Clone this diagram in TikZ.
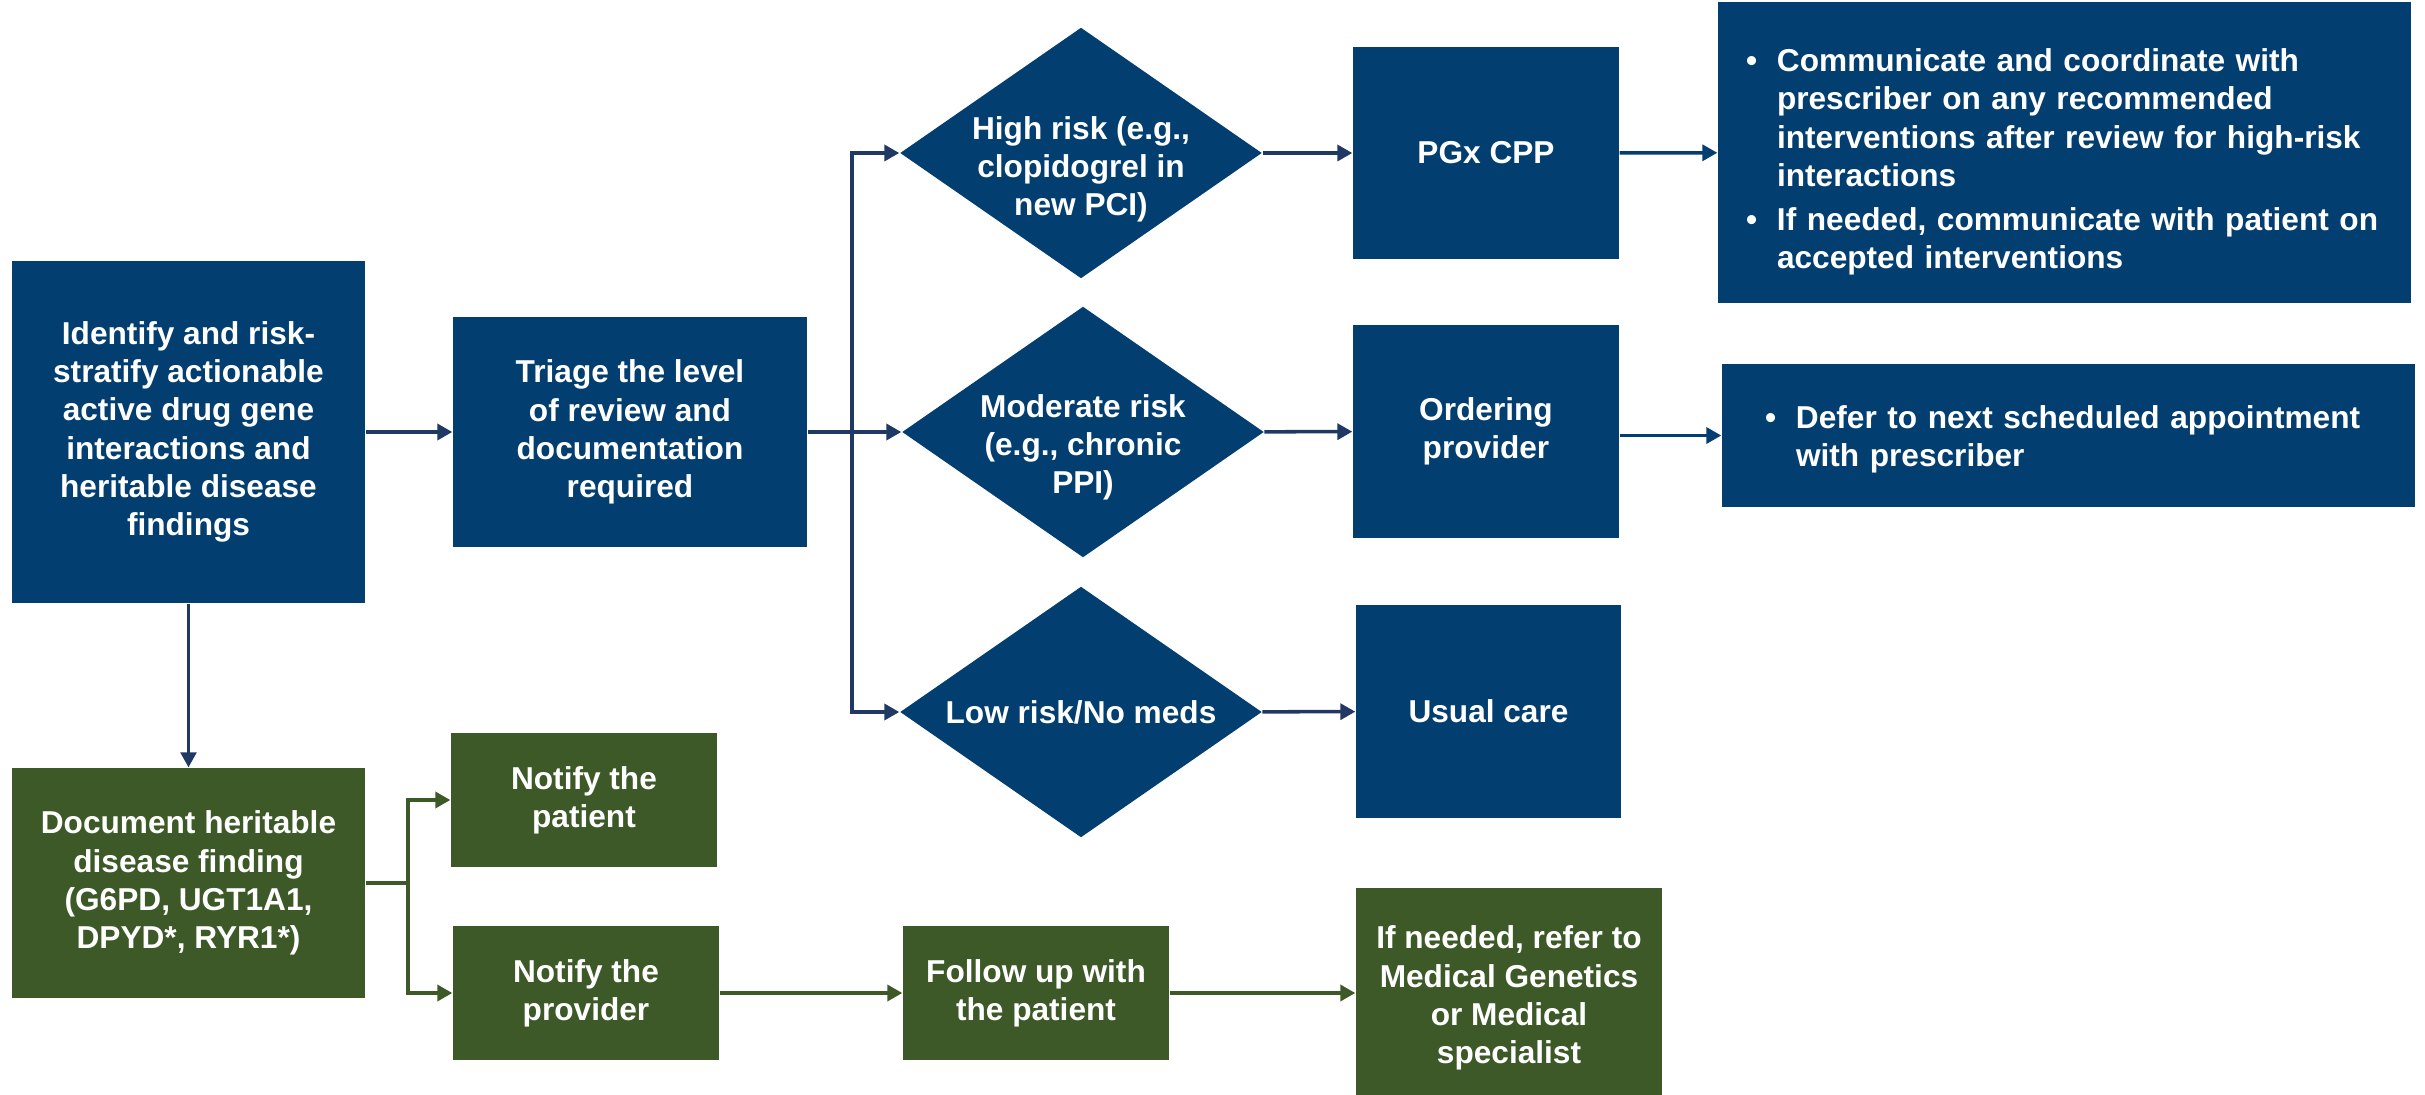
\documentclass[tikz,border=0pt]{standalone}
\usepackage{fontspec}
\setmainfont{Liberation Sans}
\usetikzlibrary{shapes.geometric,arrows.meta}

\definecolor{boxblue}{RGB}{3,62,112}
\definecolor{lineblue}{RGB}{31,56,100}
\definecolor{boxgreen}{RGB}{60,89,39}

\newcommand{\lowerby}[2]{\raisebox{-#1}[\height][\depth]{#2}}

\begin{document}
\begin{tikzpicture}[
        >={Triangle[length=0.15cm,width=0.16cm]},
        box/.style={
            rectangle,
            fill=boxblue,
            inner sep=0pt,
            align=center,
            text=white,
            font=\fontsize{9}{10.9}\selectfont\bfseries
        },
        gbox/.style={box, fill=boxgreen},
        listbox/.style={box, align=left},
        risk/.style={
            diamond,
            fill=boxblue,
            inner sep=-3pt,
            aspect=1.44,
            minimum width=3.62cm,
            minimum height=2.51cm,
            align=center,
            text=white,
            font=\fontsize{9}{10.9}\selectfont\bfseries
        },
        arrow/.style={
            ->,
            line width=1pt,
            draw=lineblue
        },
        garrow/.style={
            ->,
            line width=1pt,
            draw=boxgreen
        }
    ]

    \useasboundingbox (0, 0) rectangle (24.25, -10.94);

    \node[box, minimum width=3.53cm, minimum height=3.42cm] (ident) at (1.885, -4.32) {Identify and risk-\\stratify actionable\\active drug gene\\interactions and\\heritable disease\\findings};
    \node[box, minimum width=3.54cm, minimum height=2.30cm] (triage) at (6.30, -4.32) {Triage the level\\of review and\\documentation\\required};

    \node[risk] (high)     at (10.81, -1.53) {\lowerby{0.17cm}{\begin{tabular}{@{}c@{}}High risk (e.g.,\\clopidogrel in\\new PCI)\end{tabular}}};
    \node[risk] (moderate) at (10.83, -4.32) {\lowerby{0.16cm}{\begin{tabular}{@{}c@{}}Moderate risk\\(e.g., chronic\\PPI)\end{tabular}}};
    \node[risk] (low)      at (10.81, -7.12) {Low risk/No meds};

    \node[box, minimum width=2.66cm, minimum height=2.12cm] (pgx)      at (14.86, -1.53)   {PGx CPP};
    \node[box, minimum width=2.66cm, minimum height=2.13cm] (ordering) at (14.86, -4.315)  {Ordering\\provider};
    \node[box, minimum width=2.65cm, minimum height=2.13cm] (usual)    at (14.885, -7.115) {Usual care};

    \node[listbox, minimum width=6.93cm, minimum height=3.01cm, text width=6.37cm, inner xsep=0.28cm] (highlist) at (20.645, -1.525) {%
        \lowerby{0.10cm}{\begin{tabular}{@{}p{0.31cm}@{}l@{}}
        \textbullet & Communicate and coordinate with\\
                    & prescriber on any recommended\\
                    & interventions after review for high-risk\\
                    & interactions\\[1.7pt]
        \textbullet & If needed, communicate with patient on\\
                    & accepted interventions
        \end{tabular}}};
    \node[listbox, minimum width=6.93cm, minimum height=1.43cm, text width=6.07cm, inner xsep=0.43cm] (modlist) at (20.685, -4.355) {%
        \lowerby{0.04cm}{\begin{tabular}{@{}p{0.31cm}@{}l@{}}
        \textbullet & Defer to next scheduled appointment\\
                    & with prescriber
        \end{tabular}}};

    \node[gbox, minimum width=3.53cm, minimum height=2.30cm] (document)   at (1.885, -8.83) {Document heritable\\disease finding\\(G6PD, UGT1A1,\\DPYD*, RYR1*)};
    \node[gbox, minimum width=2.66cm, minimum height=1.34cm] (notifypat)  at (5.84, -8.00)  {Notify the\\patient};
    \node[gbox, minimum width=2.66cm, minimum height=1.34cm] (notifyprov) at (5.86, -9.93)  {Notify the\\provider};
    \node[gbox, minimum width=2.66cm, minimum height=1.34cm] (followup)   at (10.36, -9.93) {Follow up with\\the patient};
    \node[gbox, minimum width=3.06cm, minimum height=2.20cm] (refer)      at (15.09, -9.98) {If needed, refer to\\Medical Genetics\\or Medical\\specialist};

    \coordinate (split)  at (8.52, -4.32);
    \coordinate (gsplit) at (4.08, -8.83);

    \draw[arrow] (ident) -- (triage);
    \draw[arrow] (triage) -- (moderate);
    \draw[arrow] (split) |- (high);
    \draw[arrow] (split) |- (low);
    \draw[arrow] (high) -- (pgx);
    \draw[arrow] (moderate) -- (ordering);
    \draw[arrow] (low) -- (usual);
    \draw[arrow, draw=boxblue] (pgx) -- (highlist);
    \draw[arrow, draw=boxblue] (ordering.east |- modlist) -- (modlist);
    \draw[arrow, line width=0.7pt] (ident) -- (document);

    \draw[garrow] (document) -- (gsplit) |- (notifypat);
    \draw[garrow] (gsplit) |- (notifyprov);
    \draw[garrow] (notifyprov) -- (followup);
    \draw[garrow] (followup) -- (followup -| refer.west);

\end{tikzpicture}
\end{document}
